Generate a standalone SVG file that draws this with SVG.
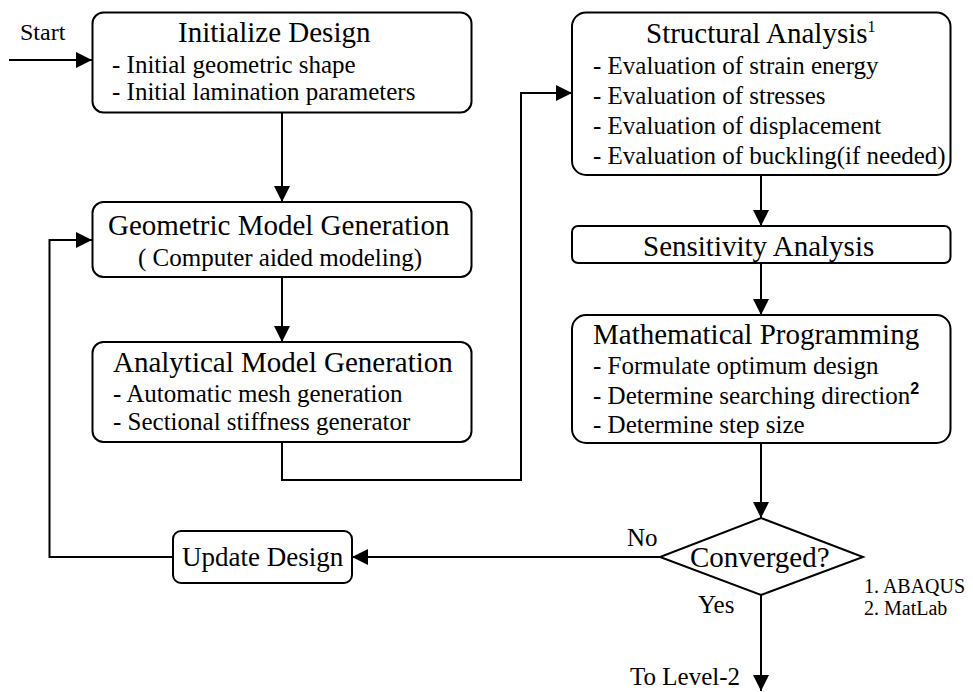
<svg xmlns="http://www.w3.org/2000/svg" width="973" height="692" viewBox="0 0 973 692">
  <style>
    .box { fill: #fff; stroke: #000; stroke-width: 2; }
    .line { fill: none; stroke: #000; stroke-width: 2; }
    text { font-family: "Liberation Serif", "Times New Roman", serif; fill: #000; }
    .title { font-size: 29px; }
    .body { font-size: 25px; }
    .note { font-size: 20px; }
    .sup { font-size: 16px; }
  </style>
  <defs>
    <marker id="arrow" markerWidth="16" markerHeight="16" refX="16" refY="8" orient="auto" markerUnits="userSpaceOnUse">
      <path d="M0,0 L16,8 L0,16 Z" fill="#000"/>
    </marker>
  </defs>

  <rect width="973" height="692" fill="#fff"/>

  <!-- connectors -->
  <g id="connectors">
    <path class="line" d="M9,60 H92" marker-end="url(#arrow)"/>
    <path class="line" d="M282,113 V202" marker-end="url(#arrow)"/>
    <path class="line" d="M282,277 V342" marker-end="url(#arrow)"/>
    <path class="line" d="M282,442 V480 H521 V93 H572" marker-end="url(#arrow)"/>
    <path class="line" d="M761,175 V226" marker-end="url(#arrow)"/>
    <path class="line" d="M761,263 V315" marker-end="url(#arrow)"/>
    <path class="line" d="M761,443 V518" marker-end="url(#arrow)"/>
    <path class="line" d="M660,557 H352" marker-end="url(#arrow)"/>
    <path class="line" d="M173,557 H49.5 V240 H92" marker-end="url(#arrow)"/>
    <path class="line" d="M761,595 V691" marker-end="url(#arrow)"/>
  </g>

  <g id="start">
    <text class="body" x="20" y="40" style="font-size:24px">Start</text>
  </g>

  <g id="initialize-design">
    <rect class="box" x="92.5" y="12.5" width="379" height="100" rx="11"/>
    <text class="title" x="178" y="42">Initialize Design</text>
    <text class="body" x="112" y="73">- Initial geometric shape</text>
    <text class="body" x="112" y="100">- Initial lamination parameters</text>
  </g>

  <g id="geometric-model">
    <rect class="box" x="92.5" y="202" width="379" height="75" rx="11"/>
    <text class="title" x="108" y="235">Geometric Model Generation</text>
    <text class="body" x="138" y="266">( Computer aided modeling)</text>
  </g>

  <g id="analytical-model">
    <rect class="box" x="92.5" y="342" width="379" height="100" rx="11"/>
    <text class="title" x="113" y="372">Analytical Model Generation</text>
    <text class="body" x="113" y="402">- Automatic mesh generation</text>
    <text class="body" x="113" y="430">- Sectional stiffness generator</text>
  </g>

  <g id="structural-analysis">
    <rect class="box" x="572" y="12.5" width="378.5" height="162.5" rx="14"/>
    <text class="title" x="646" y="43">Structural Analysis<tspan class="sup" dy="-11">1</tspan></text>
    <text class="body" x="593" y="74">- Evaluation of strain energy</text>
    <text class="body" x="593" y="104">- Evaluation of stresses</text>
    <text class="body" x="593" y="134">- Evaluation of displacement</text>
    <text class="body" x="593" y="164">- Evaluation of buckling(if needed)</text>
  </g>

  <g id="sensitivity-analysis">
    <rect class="box" x="572" y="226" width="378.5" height="37" rx="6"/>
    <text class="title" x="643" y="256">Sensitivity Analysis</text>
  </g>

  <g id="mathematical-programming">
    <rect class="box" x="572" y="315" width="378.5" height="128" rx="14"/>
    <text class="title" x="593" y="344">Mathematical Programming</text>
    <text class="body" x="593" y="374">- Formulate optimum design</text>
    <text class="body" x="593" y="404">- Determine searching direction<tspan class="sup" dy="-10" style="font-family:'Liberation Sans',Arial,sans-serif;font-weight:bold">2</tspan></text>
    <text class="body" x="593" y="433">- Determine step size</text>
  </g>

  <g id="converged">
    <path class="box" d="M761,518 L863,557 L761,595 L660,557 Z"/>
    <text class="title" x="690" y="567">Converged?</text>
    <text class="body" x="627" y="546">No</text>
    <text class="body" x="698" y="613">Yes</text>
  </g>

  <g id="update-design">
    <rect class="box" x="173" y="531" width="179" height="52" rx="8"/>
    <text class="body" x="182" y="566" style="font-size:27px">Update Design</text>
  </g>

  <g id="to-level-2">
    <text class="body" x="630" y="685">To Level-2</text>
  </g>

  <g id="footnotes">
    <text class="note" x="864" y="593">1. ABAQUS</text>
    <text class="note" x="864" y="615">2. MatLab</text>
  </g>
</svg>
